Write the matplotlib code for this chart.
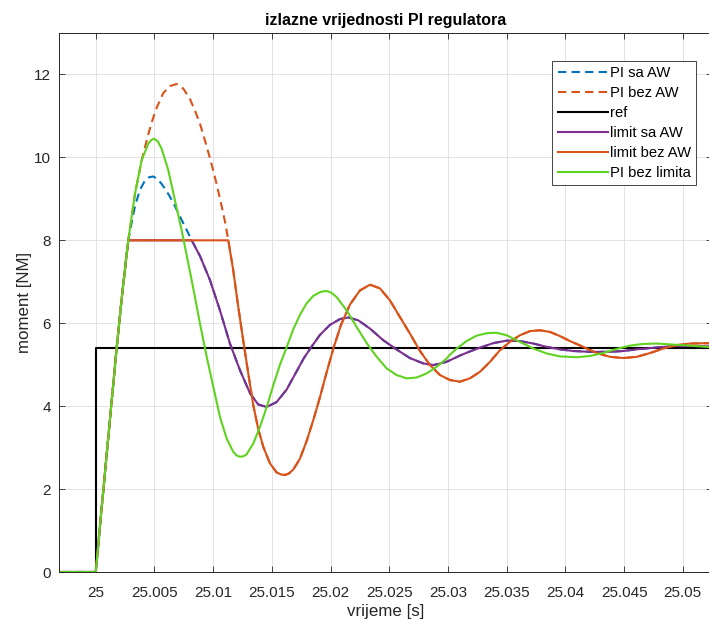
import numpy as np
import matplotlib
matplotlib.use("Agg")
import matplotlib.pyplot as plt

plt.rcParams["font.family"] = ["Liberation Sans", "DejaVu Sans"]

LIMIT = 8.0

# shared rise of the controller output (all variants identical up to the limit)
t_rise = [24.9960, 25.00000, 25.00044, 25.00087, 25.00130, 25.00178, 25.00223, 25.00277]
v_rise = [0.0, 0.0, 1.35, 2.65, 3.95, 5.40, 6.65, 8.00]

# PI without limit, after reaching 8
t_free = [25.00334, 25.00391, 25.00447, 25.00473, 25.00498, 25.00530, 25.00561, 25.00618,
          25.00675, 25.00732, 25.00783, 25.00837, 25.00888, 25.00945, 25.01001, 25.01058,
          25.01115, 25.01171, 25.01200, 25.01228, 25.01257, 25.01285, 25.01342, 25.01399,
          25.01456, 25.01512, 25.01569, 25.01626, 25.01682, 25.01739, 25.01796, 25.01853,
          25.01910, 25.01961, 25.02005, 25.02052, 25.02137, 25.02222, 25.02308, 25.02393,
          25.02478, 25.02563, 25.02648, 25.02733, 25.02819, 25.02904, 25.02989, 25.03017,
          25.03074, 25.03159, 25.03244, 25.03330, 25.03415, 25.03500, 25.03613, 25.03727,
          25.03841, 25.03954, 25.04096, 25.04210, 25.04320, 25.04437, 25.04550, 25.04661,
          25.04772, 25.04891, 25.05002, 25.05112, 25.05249]
v_free = [9.12, 9.93, 10.33, 10.42, 10.45, 10.38, 10.21, 9.69,
          8.96, 8.24, 7.52, 6.75, 5.99, 5.19, 4.47, 3.74,
          3.22, 2.90, 2.81, 2.78, 2.79, 2.84, 3.10, 3.50,
          3.98, 4.50, 5.00, 5.42, 5.85, 6.20, 6.48, 6.66,
          6.75, 6.78, 6.74, 6.63, 6.31, 5.91, 5.52, 5.19,
          4.91, 4.75, 4.67, 4.69, 4.79, 4.95, 5.15, 5.24,
          5.39, 5.57, 5.70, 5.76, 5.77, 5.71, 5.55, 5.39,
          5.27, 5.20, 5.18, 5.21, 5.28, 5.38, 5.46, 5.50,
          5.51, 5.49, 5.47, 5.45, 5.42]

# PI with anti-windup: part above the limit
t_hump_aw = [25.00304, 25.00334, 25.00377, 25.00419, 25.00453, 25.00490, 25.00526, 25.00561,
             25.00598, 25.00632, 25.00666, 25.00703, 25.00732, 25.00760, 25.00785, 25.00817]
v_hump_aw = [8.40, 8.82, 9.22, 9.44, 9.52, 9.54, 9.48, 9.36,
             9.21, 9.05, 8.87, 8.66, 8.49, 8.33, 8.19, 8.00]

# with anti-windup, after leaving the limit
t_tail_aw = [25.00888, 25.00973, 25.01058, 25.01143, 25.01228, 25.01314, 25.01384, 25.01456,
             25.01541, 25.01626, 25.01711, 25.01773, 25.01842, 25.01910, 25.01995, 25.02080,
             25.02151, 25.02236, 25.02336, 25.02449, 25.02566, 25.02676, 25.02790, 25.02875,
             25.02989, 25.03102, 25.03187, 25.03273, 25.03386, 25.03500, 25.03613, 25.03727,
             25.03841, 25.03954, 25.04067, 25.04210, 25.04380, 25.04493, 25.04607, 25.04721,
             25.04834, 25.04948, 25.05061, 25.05249]
v_tail_aw = [7.62, 7.04, 6.31, 5.51, 4.87, 4.31, 4.04, 3.98,
             4.10, 4.40, 4.84, 5.16, 5.45, 5.72, 5.96, 6.10,
             6.14, 6.07, 5.87, 5.59, 5.36, 5.16, 5.03, 4.99,
             5.07, 5.22, 5.32, 5.41, 5.52, 5.58, 5.57, 5.51,
             5.43, 5.37, 5.33, 5.31, 5.31, 5.33, 5.37, 5.40,
             5.43, 5.45, 5.45, 5.44]

# PI without anti-windup: part above the limit
t_hump_noaw = [25.00334, 25.00391, 25.00419, 25.00447, 25.00476, 25.00519, 25.00575, 25.00632,
               25.00689, 25.00745, 25.00802, 25.00845, 25.00888, 25.00930, 25.00973, 25.01001,
               25.01030, 25.01072, 25.01101, 25.01129]
v_hump_noaw = [9.12, 9.93, 10.24, 10.55, 10.84, 11.20, 11.55, 11.72,
               11.77, 11.66, 11.41, 11.13, 10.81, 10.41, 9.98, 9.68,
               9.35, 8.83, 8.45, 8.00]

# without anti-windup, after leaving the limit
t_tail_noaw = [25.01171, 25.01214, 25.01256, 25.01299, 25.01342, 25.01384, 25.01427, 25.01484,
               25.01541, 25.01580, 25.01612, 25.01647, 25.01682, 25.01739, 25.01799, 25.01859,
               25.01910, 25.01969, 25.02025, 25.02089, 25.02165, 25.02250, 25.02336, 25.02421,
               25.02506, 25.02591, 25.02676, 25.02762, 25.02847, 25.02932, 25.03017, 25.03102,
               25.03187, 25.03273, 25.03358, 25.03443, 25.03528, 25.03613, 25.03699, 25.03784,
               25.03869, 25.03954, 25.04039, 25.04153, 25.04267, 25.04380, 25.04493, 25.04607,
               25.04721, 25.04834, 25.04948, 25.05061, 25.05249]
v_tail_noaw = [7.28, 6.39, 5.59, 4.79, 4.02, 3.45, 3.02, 2.62,
               2.40, 2.35, 2.34, 2.38, 2.47, 2.73, 3.18, 3.72,
               4.22, 4.84, 5.40, 5.96, 6.45, 6.79, 6.93, 6.84,
               6.55, 6.15, 5.75, 5.33, 4.99, 4.75, 4.63, 4.59,
               4.67, 4.83, 5.07, 5.35, 5.55, 5.71, 5.81, 5.83,
               5.79, 5.69, 5.57, 5.43, 5.28, 5.19, 5.16, 5.19,
               5.28, 5.39, 5.47, 5.51, 5.52]

# torque reference step
t_ref = [24.9960, 25.0, 25.0, 25.0530]
v_ref = [0.0, 0.0, 5.4, 5.4]

x_ticks = [25.0, 25.005, 25.01, 25.015, 25.02, 25.025, 25.03, 25.035, 25.04, 25.045, 25.05]
x_labels = ["25", "25.005", "25.01", "25.015", "25.02", "25.025", "25.03", "25.035",
            "25.04", "25.045", "25.05"]
y_ticks = [0, 2, 4, 6, 8, 10, 12]

labels = ["PI sa AW", "PI bez AW", "ref", "limit sa AW", "limit bez AW", "PI bez limita"]
colors = ["#0072BD", "#D95319", "#000000", "#7E2F8E", "#D95319", "#5FD320"]

# assemble series
t_pi_aw = np.array(t_rise + t_hump_aw + t_tail_aw)
v_pi_aw = np.array(v_rise + v_hump_aw + v_tail_aw)
t_pi_noaw = np.array(t_rise + t_hump_noaw + t_tail_noaw)
v_pi_noaw = np.array(v_rise + v_hump_noaw + v_tail_noaw)
t_free_all = np.array(t_rise + t_free)
v_free_all = np.array(v_rise + v_free)

lim_aw = np.minimum(v_pi_aw, LIMIT)
lim_noaw = np.minimum(v_pi_noaw, LIMIT)

fig = plt.figure(figsize=(7.09, 6.21), dpi=100)
ax = fig.add_axes([59 / 709, 49 / 621, 653 / 709, 539 / 621])

lw = 1.5
dash = (4, 2.5)
ax.plot(t_pi_aw, v_pi_aw, color=colors[0], lw=lw, dashes=dash, label=labels[0])
ax.plot(t_pi_noaw, v_pi_noaw, color=colors[1], lw=lw, dashes=dash, label=labels[1])
ax.plot(t_ref, v_ref, color=colors[2], lw=lw, label=labels[2])
ax.plot(t_pi_aw, lim_aw, color=colors[3], lw=lw, label=labels[3])
ax.plot(t_pi_noaw, lim_noaw, color=colors[4], lw=lw, label=labels[4])
ax.plot(t_free_all, v_free_all, color=colors[5], lw=lw, label=labels[5])

ax.set_xlim(24.99687, 25.05249)
ax.set_ylim(0, 13)
ax.set_xticks(x_ticks)
ax.set_xticklabels(x_labels)
ax.set_yticks(y_ticks)

axc = "#262626"
ax.tick_params(direction="in", top=True, right=True, length=4.5, width=0.6,
               colors=axc, labelsize=11)
ax.tick_params(axis="x", pad=10)
ax.tick_params(axis="y", pad=6)
for s in ax.spines.values():
    s.set_color(axc)
    s.set_linewidth(0.7)
ax.grid(True, color="#dedede", lw=0.6)
ax.set_axisbelow(True)

ax.set_xlabel("vrijeme [s]", fontsize=12.2, color=axc, labelpad=3)
ax.set_ylabel("moment [NM]", fontsize=12.2, color=axc, labelpad=1)
ax.set_title("izlazne vrijednosti PI regulatora", fontsize=11.5, fontweight="bold",
             color="#000000", pad=6)

leg = ax.legend(loc="upper right", bbox_to_anchor=(0.9755, 0.9477), borderaxespad=0,
                fontsize=10.6, handlelength=3.4, handletextpad=0.15, borderpad=0.35,
                labelspacing=0.4, fancybox=False, framealpha=1, edgecolor=axc)
leg.get_frame().set_linewidth(0.6)

fig.savefig("out.png", dpi=100)
